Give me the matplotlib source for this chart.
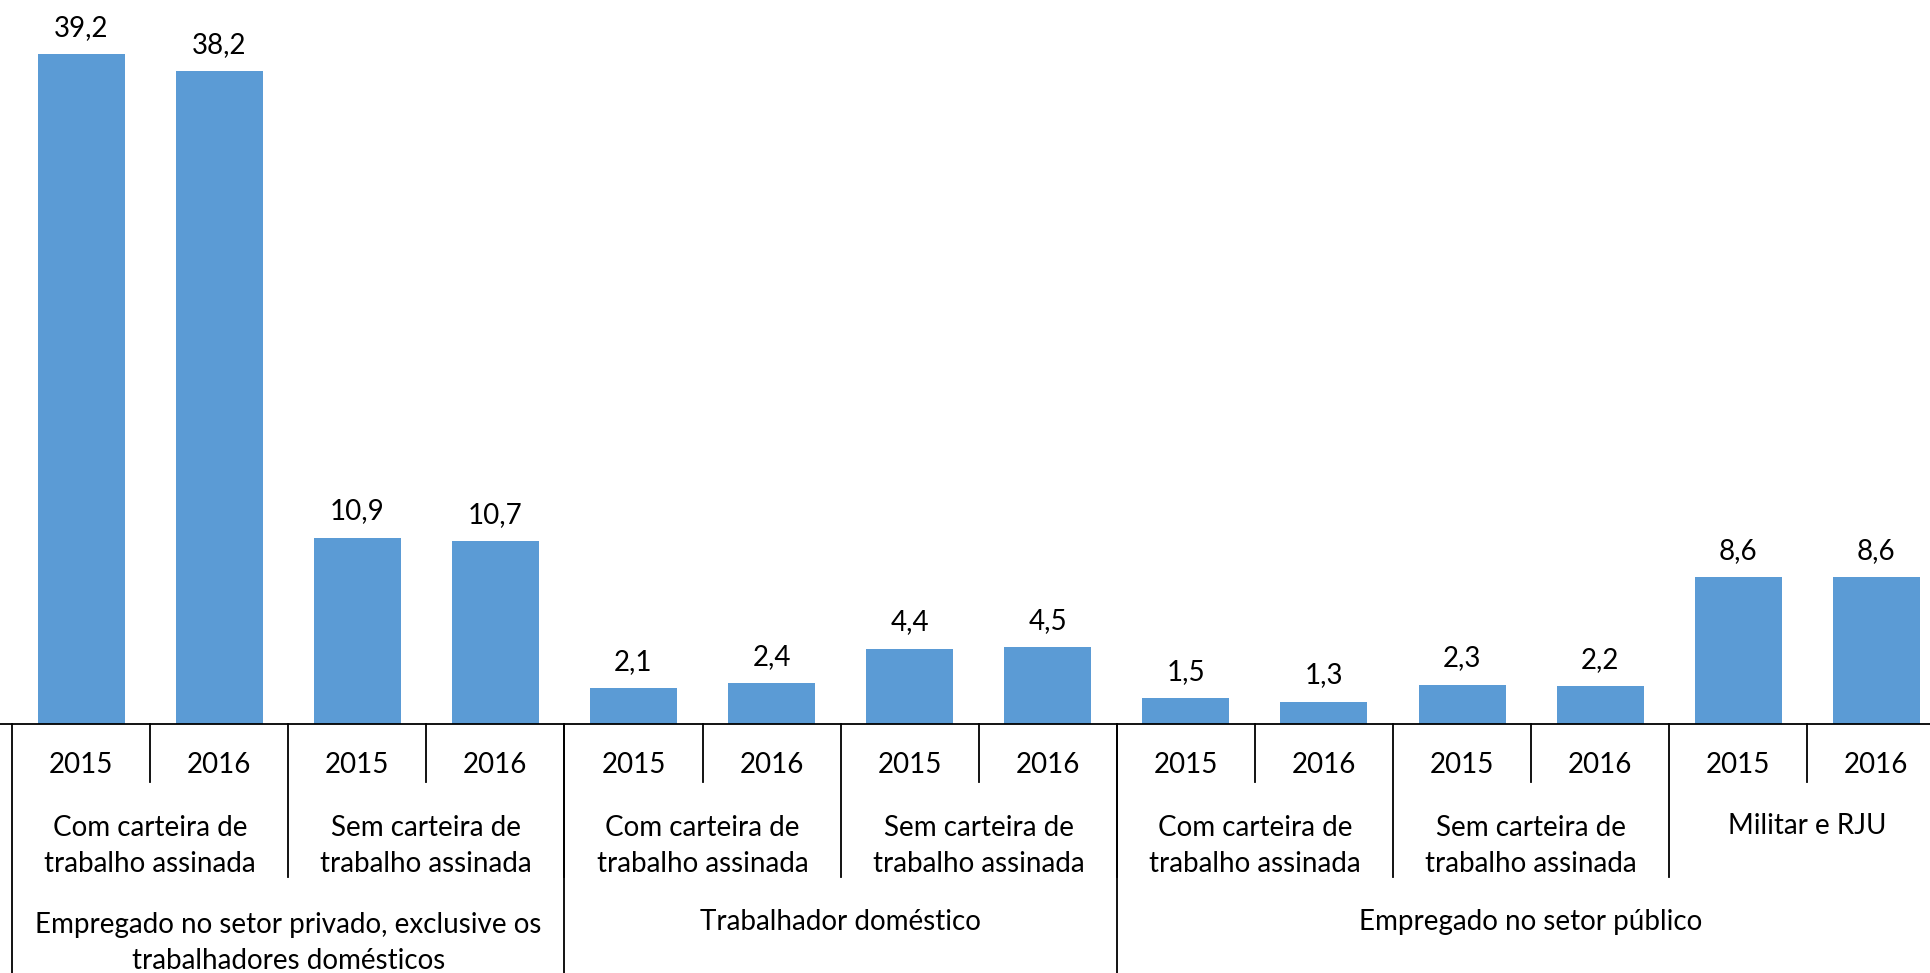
import matplotlib.pyplot as plt
from matplotlib.transforms import blended_transform_factory

anos = ['2015', '2016'] * 7
valores = [39.2, 38.2, 10.9, 10.7, 2.1, 2.4, 4.4, 4.5, 1.5, 1.3, 2.3, 2.2, 8.6, 8.6]
subgrupos = ['Com carteira de\ntrabalho assinada', 'Sem carteira de\ntrabalho assinada',
             'Com carteira de\ntrabalho assinada', 'Sem carteira de\ntrabalho assinada',
             'Com carteira de\ntrabalho assinada', 'Sem carteira de\ntrabalho assinada',
             'Militar e RJU']
grupos = ['Empregado no setor privado, exclusive os\ntrabalhadores domésticos',
          'Trabalhador doméstico',
          'Empregado no setor público']
tam_subgrupos = [2, 2, 2, 2, 2, 2, 2]
tam_grupos = [4, 4, 6]

plt.rcParams['font.family'] = ['Lato', 'DejaVu Sans']

W, H = 1930, 973
fig = plt.figure(figsize=(W / 100, H / 100), dpi=100)
base = 724
slot = 138.1
x0 = 12
ax = fig.add_axes([0, (H - base) / H, 1, base / H])
ax.set_xlim(-x0 / slot, (W - x0) / slot)
ax.set_ylim(0, base / 17.09)
ax.axis('off')

fs = 20

xs = [i + 0.5 for i in range(len(valores))]
ax.bar(xs, valores, width=0.63, color='#5B9BD5')
for x, v in zip(xs, valores):
    ax.annotate(f'{v:.1f}'.replace('.', ','), (x, v), xytext=(0, 19),
                textcoords='offset points', ha='center', va='center', fontsize=fs)

tr = blended_transform_factory(ax.transData, fig.transFigure)


def fy(px):
    return (H - px) / H


def rotulo(x, nome, y_centro, y_linha1):
    # texto de uma linha fica alinhado com a primeira linha dos outros
    y = y_centro if '\n' in nome else y_linha1
    ax.text(x, fy(y), nome, ha='center', va='center', fontsize=fs,
            linespacing=1.5, transform=tr)


ax.plot([-1, 15], [fy(base)] * 2, color='black', lw=1.3, transform=tr, clip_on=False)

# anos
for x, a in zip(xs, anos):
    ax.text(x, fy(765), a, ha='center', va='center', fontsize=fs, transform=tr)
for i in range(1, len(valores), 2):
    ax.plot([i, i], [fy(base), fy(782)], color='black', lw=1.3, transform=tr, clip_on=False)

# subgrupos
pos = 0
for nome, n in zip(subgrupos, tam_subgrupos):
    rotulo(pos + n / 2, nome, 846, 826)
    pos += n
    ax.plot([pos, pos], [fy(base), fy(877)], color='black', lw=1.3, transform=tr, clip_on=False)

# grupos
pos = 0
ax.plot([0, 0], [fy(base), 0], color='black', lw=1.3, transform=tr, clip_on=False)
for nome, n in zip(grupos, tam_grupos):
    rotulo(pos + n / 2, nome, 943, 922)
    pos += n
    ax.plot([pos, pos], [fy(base), 0], color='black', lw=1.3, transform=tr, clip_on=False)

fig.savefig('out.png', dpi=100)
